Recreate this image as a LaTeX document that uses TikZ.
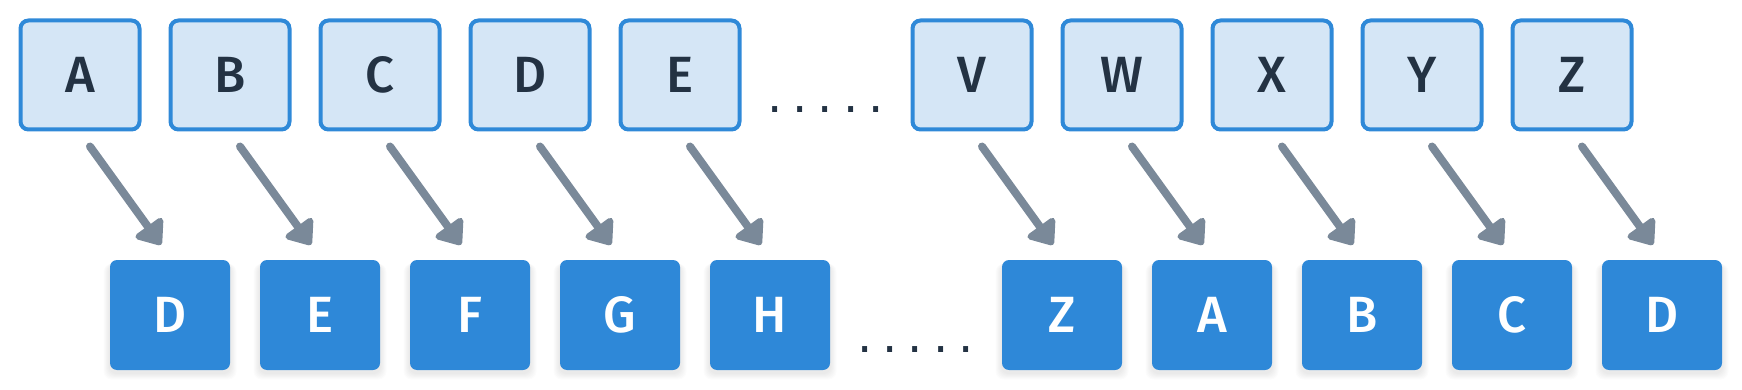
\documentclass[tikz,border=0pt]{standalone}
\usepackage{fontspec}
\setmainfont{Fira Sans}[UprightFont=* Medium, BoldFont=* SemiBold]
\newfontfamily\dotfont{DejaVu Sans}
\usetikzlibrary{arrows.meta,backgrounds}
\definecolor{topfill}{HTML}{D5E6F6}
\definecolor{topline}{HTML}{2F89D8}
\definecolor{botfill}{HTML}{2E88D8}
\definecolor{arrcol}{HTML}{7A8999}
\definecolor{txtdark}{HTML}{233243}
\tikzset{
  topbox/.style={draw=topline, fill=topfill, line width=4pt, rounded corners=8pt,
    minimum width=119pt, minimum height=109pt, inner sep=0pt,
    text=txtdark, font=\fontsize{51}{60}\selectfont},
  botbox/.style={fill=botfill, rounded corners=7pt,
    minimum width=120pt, minimum height=110pt, inner sep=0pt,
    text=white, font=\fontsize{51}{60}\selectfont},
  arr/.style={draw=arrcol, line width=8pt, line cap=round,
    -{Triangle[length=25pt,width=38pt,round]}},
  dots/.style={text=txtdark, inner sep=0pt, font=\dotfont\fontsize{48}{56}\selectfont}
}
\begin{document}
\begin{tikzpicture}[x=1pt,y=-1pt]
\useasboundingbox (0,0) rectangle (1742,390);
% top row
\foreach \l/\x in {A/80,B/230,C/380,D/530,E/680,V/972,W/1122,X/1272,Y/1422,Z/1572}
  \node[topbox] (t\l) at (\x,75) {\l};
% bottom row
\foreach \n/\l/\x in {1/D/170,2/E/320,3/F/470,4/G/620,5/H/770,6/Z/1062,7/A/1212,8/B/1362,9/C/1512,10/D/1662}
  \node[botbox] (b\n) at (\x,315) {\l};
% soft shadows
\begin{scope}[on background layer]
\foreach \n in {1,...,10}
  \foreach \k in {1,...,7}
    \fill[black, opacity=0.012, rounded corners=8pt]
      ([xshift=-\k*0.9pt, yshift=-3pt-\k*0.9pt]b\n.south west) rectangle
      ([xshift=\k*0.9pt, yshift=-4pt]b\n.north east);
\end{scope}
% arrows
\foreach \t/\b in {A/1,B/2,C/3,D/4,E/5,V/6,W/7,X/8,Y/9,Z/10}
  \draw[arr] ([xshift=10pt,yshift=-15pt]t\t.south) -- ([xshift=-9pt,yshift=15pt]b\b.north);
% ellipses
\node[dots] (dtop) at (825.5,109.7) {.\hspace{10pt}.\hspace{10pt}.\hspace{10pt}.\hspace{10pt}.};
\node[dots] (dbot) at (915.5,349.7) {.\hspace{10pt}.\hspace{10pt}.\hspace{10pt}.\hspace{10pt}.};
\end{tikzpicture}
\end{document}
